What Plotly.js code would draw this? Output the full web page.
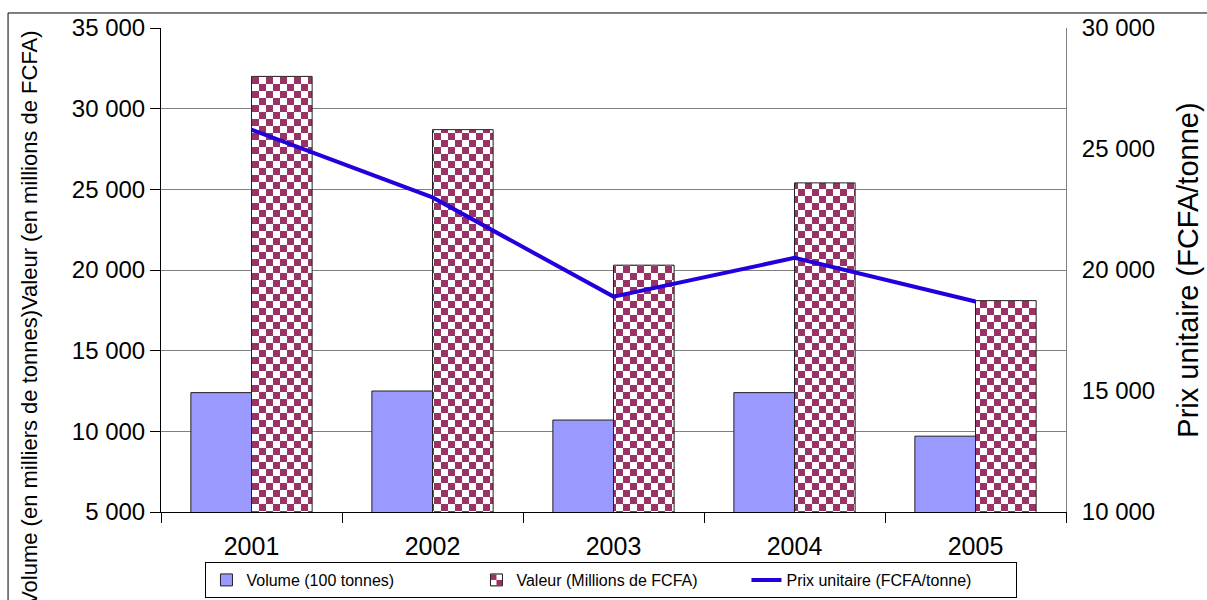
<!DOCTYPE html>
<html>
<head>
<meta charset="utf-8">
<script src="https://cdn.plot.ly/plotly-3.0.1.min.js"></script>
<style>html,body{margin:0;padding:0;background:#fff;}#chart{width:1207px;height:600px;}</style>
</head>
<body>
<div id="chart"></div>
<script>
// ---- data ----
const years = ['2001', '2002', '2003', '2004', '2005'];
const volume = [12400, 12500, 10700, 12400, 9700];        // Volume (100 tonnes)
const valeur = [32000, 28700, 20300, 25400, 18100];       // Valeur (Millions de FCFA)
const prix = [25800, 23000, 18900, 20500, 18700];         // Prix unitaire (FCFA/tonne)
const seriesNames = ['Volume (100 tonnes)', 'Valeur (Millions de FCFA)', 'Prix unitaire (FCFA/tonne)'];
const leftTitle = 'Volume (en milliers de tonnes)Valeur (en millions de FCFA)';
const rightTitle = 'Prix unitaire (FCFA/tonne)';

const FONT = 'Arial, "Liberation Sans", sans-serif';
const MAROON = '#993366';

const traces = [
  {
    type: 'bar', x: years, y: volume, name: seriesNames[0],
    marker: {color: '#9999ff', line: {color: '#222', width: 1}},
    yaxis: 'y', hoverinfo: 'x+y'
  },
  {
    type: 'bar', x: years, y: valeur, name: seriesNames[1],
    marker: {color: '#ffffff', line: {color: '#222', width: 1},
      pattern: {shape: '.', fgcolor: MAROON, bgcolor: '#ffffff', size: 12, solidity: 0.5}},
    yaxis: 'y', hoverinfo: 'x+y'
  },
  {
    type: 'scatter', mode: 'lines', x: years, y: prix, name: seriesNames[2],
    line: {color: '#2200dd', width: 4},
    yaxis: 'y2'
  }
];

const layout = {
  width: 1207, height: 600,
  margin: {l: 161, r: 141, t: 28, b: 88},
  paper_bgcolor: '#ffffff', plot_bgcolor: '#ffffff',
  font: {family: FONT, color: '#000', size: 24},
  separators: ', ',
  barmode: 'group', bargap: 0.33, bargroupgap: 0,
  showlegend: true,
  legend: {
    orientation: 'h', xref: 'container', yref: 'container',
    x: 0.5066, xanchor: 'center', y: 0.0333, yanchor: 'middle',
    bordercolor: '#000', borderwidth: 1, bgcolor: '#fff',
    font: {family: FONT, size: 16, color: '#000'},
    traceorder: 'normal', itemwidth: 30, entrywidth: 225
  },
  xaxis: {
    type: 'category', showgrid: false, zeroline: false,
    showline: true, linecolor: '#000', linewidth: 1,
    ticks: 'outside', tickson: 'boundaries', ticklen: 10, tickcolor: '#000',
    ticklabelstandoff: 12,
    tickfont: {family: FONT, size: 25, color: '#000'}
  },
  yaxis: {
    range: [5000, 35000], dtick: 5000, tick0: 5000, tickformat: ',d',
    showgrid: true, gridcolor: '#808080', gridwidth: 1, zeroline: false,
    showline: true, linecolor: '#000', linewidth: 1,
    ticks: 'outside', ticklen: 10, tickcolor: '#000',
    tickfont: {family: FONT, size: 24, color: '#000'},
    fixedrange: true
  },
  yaxis2: {
    overlaying: 'y', side: 'right',
    range: [10000, 30000], dtick: 5000, tick0: 10000, tickformat: ',d',
    showgrid: false, zeroline: false,
    showline: true, linecolor: '#808080', linewidth: 1,
    ticks: '', ticklabelstandoff: 10,
    tickfont: {family: FONT, size: 24, color: '#000'},
    title: {text: rightTitle, font: {family: FONT, size: 29, color: '#000'}, standoff: 23},
    fixedrange: true
  },
  annotations: [{
    text: leftTitle, textangle: -90, showarrow: false,
    xref: 'paper', yref: 'paper', x: -0.1448, y: 0.401,
    xanchor: 'center', yanchor: 'middle',
    font: {family: FONT, size: 22, color: '#000'}
  }],
  shapes: [{
    type: 'rect', xref: 'paper', yref: 'paper',
    x0: -0.169, x1: 1.3, y0: 1.031, y1: -0.4,
    line: {color: '#000', width: 1}, fillcolor: 'rgba(0,0,0,0)', layer: 'below'
  }]
};

function checker(gd) {
  const c = 7;
  const ns = 'http://www.w3.org/2000/svg';
  gd.querySelectorAll('pattern').forEach(p => {
    if (!p.querySelector('circle')) return;
    while (p.firstChild) p.removeChild(p.firstChild);
    p.setAttribute('width', 2 * c);
    p.setAttribute('height', 2 * c);
    const mk = (x, y, w, h, f) => {
      const r = document.createElementNS(ns, 'rect');
      r.setAttribute('x', x); r.setAttribute('y', y);
      r.setAttribute('width', w); r.setAttribute('height', h);
      r.setAttribute('fill', f);
      p.appendChild(r);
    };
    mk(0, 0, 2 * c, 2 * c, '#ffffff');
    mk(0, 0, c, c, MAROON);
    mk(c, c, c, c, MAROON);
  });
}

const gd = document.getElementById('chart');
Plotly.newPlot(gd, traces, layout, {displayModeBar: false, responsive: false}).then(() => {
  checker(gd);
  gd.on('plotly_afterplot', () => checker(gd));
});
</script>
</body>
</html>
